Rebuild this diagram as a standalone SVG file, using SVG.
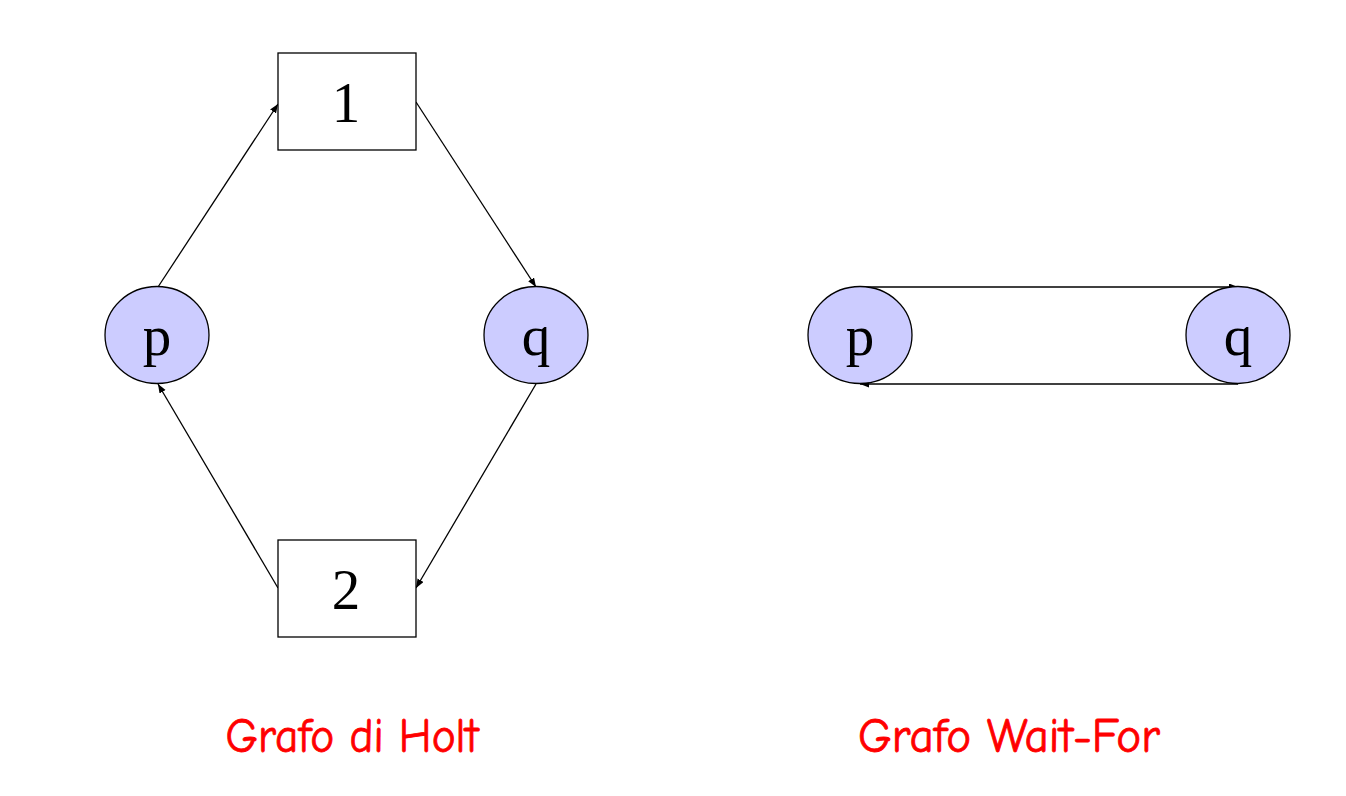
<svg xmlns="http://www.w3.org/2000/svg" width="1346" height="796" viewBox="0 0 1346 796">
<style>
.box{fill:#fff;stroke:#000;stroke-width:1.3}
.proc{fill:#ccccff;stroke:#000;stroke-width:1.3}
.lbl{font-family:"Liberation Serif","Times New Roman",serif;font-size:57px;fill:#000;text-anchor:middle}
.edge{fill:none;stroke:#000;stroke-width:1.3}
.title{font-family:"Comic Sans MS","Comic Neue","DejaVu Sans",sans-serif;font-size:48px;fill:#ff0000;stroke:#ff0000;stroke-width:0.8;text-anchor:middle}
</style>
<defs>
<marker id="arr" markerUnits="userSpaceOnUse" markerWidth="10" markerHeight="8" refX="9" refY="3.5" orient="auto">
<path d="M0,0 L9,3.5 L0,7 Z" fill="#000"/>
</marker>
</defs>
<rect width="1346" height="796" fill="#fff"/>
<g id="connectors">
<line class="edge" x1="158" y1="287" x2="278" y2="104" marker-end="url(#arr)"/>
<line class="edge" x1="416" y1="102" x2="536" y2="287" marker-end="url(#arr)"/>
<line class="edge" x1="536" y1="384" x2="416" y2="588" marker-end="url(#arr)"/>
<line class="edge" x1="278" y1="588" x2="158" y2="384" marker-end="url(#arr)"/>
<line class="edge" x1="860" y1="287" x2="1238" y2="287" marker-end="url(#arr)"/>
<line class="edge" x1="1238" y1="384" x2="860" y2="384" marker-end="url(#arr)"/>
</g>
<g id="node-1"><rect class="box" x="278" y="53" width="138" height="97"/><text class="lbl" x="346" y="122">1</text></g>
<g id="node-2"><rect class="box" x="278" y="540" width="138" height="97"/><text class="lbl" x="346" y="609">2</text></g>
<g id="node-p-holt"><ellipse class="proc" cx="157" cy="335" rx="52" ry="48.5"/><text class="lbl" x="157" y="355">p</text></g>
<g id="node-q-holt"><ellipse class="proc" cx="536" cy="335" rx="52" ry="48.5"/><text class="lbl" x="536" y="355">q</text></g>
<g id="node-p-wf"><ellipse class="proc" cx="860" cy="335" rx="52" ry="48.5"/><text class="lbl" x="860" y="355">p</text></g>
<g id="node-q-wf"><ellipse class="proc" cx="1238" cy="335" rx="52" ry="48.5"/><text class="lbl" x="1238" y="355">q</text></g>
<g id="titles">
<text class="title" x="352" y="752" textLength="253" lengthAdjust="spacingAndGlyphs">Grafo di Holt</text>
<text class="title" x="1009" y="752" textLength="302" lengthAdjust="spacingAndGlyphs">Grafo Wait-For</text>
</g>
</svg>
